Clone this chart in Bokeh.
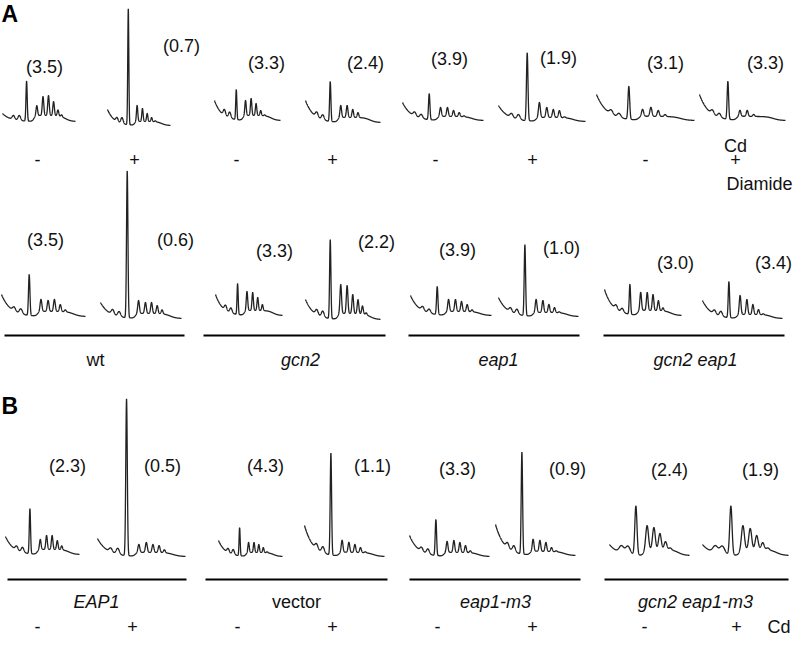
import numpy as np
from bokeh.plotting import figure
from bokeh.models import Range1d
from bokeh.embed import file_html
from bokeh.resources import INLINE
from bokeh.core.properties import value

# ---------------- data ----------------
genotypes_A = ["wt", "gcn2", "eap1", "gcn2 eap1"]
genotypes_B = ["EAP1", "vector", "eap1-m3", "gcn2 eap1-m3"]
italic_A = [False, True, True, True]
italic_B = [True, False, True, True]
treatment = ["-", "+", "-", "+", "-", "+", "-", "+"]

# polysome / monosome ratios
pm_cd = [3.5, 0.7, 3.3, 2.4, 3.9, 1.9, 3.1, 3.3]
pm_dia = [3.5, 0.6, 3.3, 2.2, 3.9, 1.0, 3.0, 3.4]
pm_B = [2.3, 0.5, 4.3, 1.1, 3.3, 0.9, 2.4, 1.9]

# A254 profile readings (relative units above gradient bottom)
top_cd = [8, 16, 20, 22, 18, 16, 26, 26]
s40_cd = [4, 4, 6, 5, 4, 4, 4, 4]
s60_cd = [5, 6, 6, 5, 4, 5, 4, 4]
m80_cd = [40, 116, 30, 40, 26, 68, 33, 38]
hump_cd = [6, 4, 5, 5, 4, 4, 4, 4]
poly_cd = [[16, 25, 26, 20, 12, 8, 4], [20, 17, 12, 8, 5, 3, 2],
           [20, 22, 17, 10, 6, 4, 2], [17, 17, 13, 10, 5, 3, 2],
           [13, 13, 10, 8, 5, 3, 2], [19, 14, 12, 11, 5, 3, 2],
           [11, 13, 10, 6, 4, 3, 2], [10, 10, 6, 4, 3, 2, 1]]
wid_cd = [1, 1, 1, 1, 1, 1, 1, 1]

top_dia = [22, 16, 21, 20, 20, 19, 26, 18]
s40_dia = [4, 5, 5, 5, 4, 4, 4, 4]
s60_dia = [5, 5, 5, 6, 4, 5, 4, 5]
m80_dia = [41, 147, 31, 79, 28, 71, 30, 36]
hump_dia = [5, 5, 5, 6, 4, 4, 5, 4]
poly_dia = [[17, 16, 17, 12, 7, 4, 2], [18, 16, 16, 13, 9, 5, 3],
            [24, 23, 18, 11, 5, 3, 2], [35, 34, 25, 20, 14, 8, 4],
            [16, 16, 14, 11, 6, 4, 2], [17, 16, 12, 9, 5, 3, 2],
            [23, 23, 21, 15, 8, 5, 3], [23, 19, 14, 9, 5, 3, 2]]
wid_dia = [1, 1, 1, 1, 1, 1, 1, 1]

top_B = [18, 18, 16, 31, 21, 31, 11, 11]
s40_B = [4, 4, 4, 5, 4, 5, 7, 7]
s60_B = [5, 6, 5, 6, 5, 6, 8, 8]
m80_B = [45, 157, 28, 102, 36, 102, 49, 49]
hump_B = [5, 4, 4, 4, 4, 4, 6, 6]
poly_B = [[15, 19, 19, 14, 9, 5, 3], [12, 14, 12, 11, 7, 4, 2],
          [14, 14, 12, 9, 5, 3, 2], [16, 14, 12, 9, 5, 3, 2],
          [15, 16, 14, 11, 6, 4, 2], [16, 15, 13, 8, 5, 3, 2],
          [30, 28, 22, 14, 8, 5, 3], [30, 27, 20, 13, 8, 5, 3]]
wid_B = [1, 1, 1, 1, 1, 1, 1.6, 1.6]

# sedimentation positions (fraction of gradient)
pos_40s, pos_60s, pos_80s = 0.15, 0.23, 0.33
pos_poly = [0.47, 0.555, 0.63, 0.70, 0.76, 0.81, 0.855]

# ---------------- layout (page pixels) ----------------
W, H = 794, 638
X0, Y0 = 8, 8
p = figure(width=W, height=H, output_backend="svg", toolbar_location=None,
           x_range=Range1d(X0, X0 + W), y_range=Range1d(Y0 + H, Y0),
           x_axis_location=None, y_axis_location=None, min_border=0)
p.grid.grid_line_color = None
p.outline_line_color = None
p.background_fill_color = "white"
p.border_fill_color = "white"

ext_cd = [(10, 83, 129), (115, 178, 133), (222, 288, 128), (313, 388, 130),
          (410, 491, 128), (506, 593, 129), (604, 702, 128), (707, 793, 128)]
ext_dia = [(9, 93, 324), (108, 189, 326), (223, 290, 323), (313, 388, 327),
           (418, 499, 323), (506, 586, 324), (612, 689, 323), (710, 790, 326)]
ext_B = [(13, 87, 562), (105, 193, 564), (226, 290, 564), (312, 392, 564),
         (417, 497, 564), (503, 583, 563), (617, 697, 563), (710, 796, 563)]

lab_cd = [(52, 74), (189, 53), (274, 70), (373, 70), (457, 66), (566, 65), (673, 70), (773, 70)]
lab_dia = [(53, 247), (183, 247), (282, 258), (384, 249), (465, 257), (569, 255), (683, 270), (781, 270)]
lab_B = [(75, 473), (170, 473), (273, 473), (380, 473), (465, 476), (575, 476), (677, 477), (768, 477)]

t = np.linspace(0, 1, 700)


def g(mu, s):
    return np.exp(-0.5 * ((t - mu) / s) ** 2)


def profile(top, s40, s60, m80, hump, polys, w):
    y = top * np.exp(-t / 0.11)
    y = y + s40 * g(pos_40s, 0.018 * w) + s60 * g(pos_60s, 0.018 * w)
    y = y + m80 * g(pos_80s, 0.0085 * w)
    env = 1 / (1 + np.exp(-(t - 0.43) / 0.012)) / (1 + np.exp((t - 0.86) / 0.04))
    y = y + hump * env
    for mu, h in zip(pos_poly, polys):
        y = y + max(h - hump, 0) * g(mu, 0.0105 * w)
    return y


FONT = value("Liberation Sans")
INK = "#111111"
FS = "18px"
n = 0
rows = [(ext_cd, top_cd, s40_cd, s60_cd, m80_cd, hump_cd, poly_cd, wid_cd, lab_cd, pm_cd),
        (ext_dia, top_dia, s40_dia, s60_dia, m80_dia, hump_dia, poly_dia, wid_dia, lab_dia, pm_dia),
        (ext_B, top_B, s40_B, s60_B, m80_B, hump_B, poly_B, wid_B, lab_B, pm_B)]
for ext, top, s40, s60, m80, hump, poly, wid, lab, pm in rows:
    for i in range(8):
        x0, x1, yb = ext[i]
        a = -(x0 - X0) / (x1 - x0)
        p.extra_x_ranges[f"x{n}"] = Range1d(a, a + W / (x1 - x0))
        c = yb - (Y0 + H)
        p.extra_y_ranges[f"y{n}"] = Range1d(c, c + H)
        y = profile(top[i], s40[i], s60[i], m80[i], hump[i], poly[i], wid[i])
        p.line(t, y, x_range_name=f"x{n}", y_range_name=f"y{n}",
               line_color="#222222", line_width=1.3)
        n += 1
    p.text(x=[q[0] for q in lab], y=[q[1] for q in lab],
           text=[f"({v:.1f})" for v in pm], text_font=FONT, text_font_size=FS,
           text_align="center", text_baseline="middle", text_color=INK)

# group underlines
lines_A = [(12, 192), (211, 393), (416, 587), (611, 792)]
lines_B = [(15, 194), (213, 395), (417, 588), (612, 796)]
p.segment(x0=[q[0] for q in lines_A], y0=[343] * 4, x1=[q[1] for q in lines_A], y1=[343] * 4,
          line_color="black", line_width=2.2)
p.segment(x0=[q[0] for q in lines_B], y0=[587] * 4, x1=[q[1] for q in lines_B], y1=[587] * 4,
          line_color="black", line_width=2.2)

# genotype labels
gx_A = [103, 308, 506, 703]
gx_B = [104, 304, 503, 703]
for names, italics, gx, gy in [(genotypes_A, italic_A, gx_A, 367), (genotypes_B, italic_B, gx_B, 609)]:
    for name, it, x in zip(names, italics, gx):
        p.text(x=[x], y=[gy], text=[name], text_font=FONT, text_font_size=FS,
               text_font_style="italic" if it else "normal",
               text_align="center", text_baseline="middle", text_color=INK)

# treatment signs
sx_A = [45, 142, 244, 340, 443, 540, 653, 743]
sx_B = [45, 140, 245, 340, 445, 540, 652, 744]
p.text(x=sx_A, y=[167] * 8, text=treatment, text_font=FONT, text_font_size=FS,
       text_align="center", text_baseline="middle", text_color=INK)
p.text(x=sx_B, y=[634] * 8, text=treatment, text_font=FONT, text_font_size=FS,
       text_align="center", text_baseline="middle", text_color=INK)

p.text(x=[743], y=[153], text=["Cd"], text_font=FONT, text_font_size=FS,
       text_align="center", text_baseline="middle", text_color=INK)
p.text(x=[775], y=[634], text=["Cd"], text_font=FONT, text_font_size=FS,
       text_align="left", text_baseline="middle", text_color=INK)
p.text(x=[800], y=[191], text=["Diamide"], text_font=FONT, text_font_size=FS,
       text_align="right", text_baseline="middle", text_color=INK)

# panel letters
p.text(x=[9, 9], y=[21, 413], text=["A", "B"], text_font=FONT, text_font_size="23px",
       text_font_style="bold", text_align="left", text_baseline="middle", text_color="black")

open("out.html", "w").write(file_html(p, INLINE))
